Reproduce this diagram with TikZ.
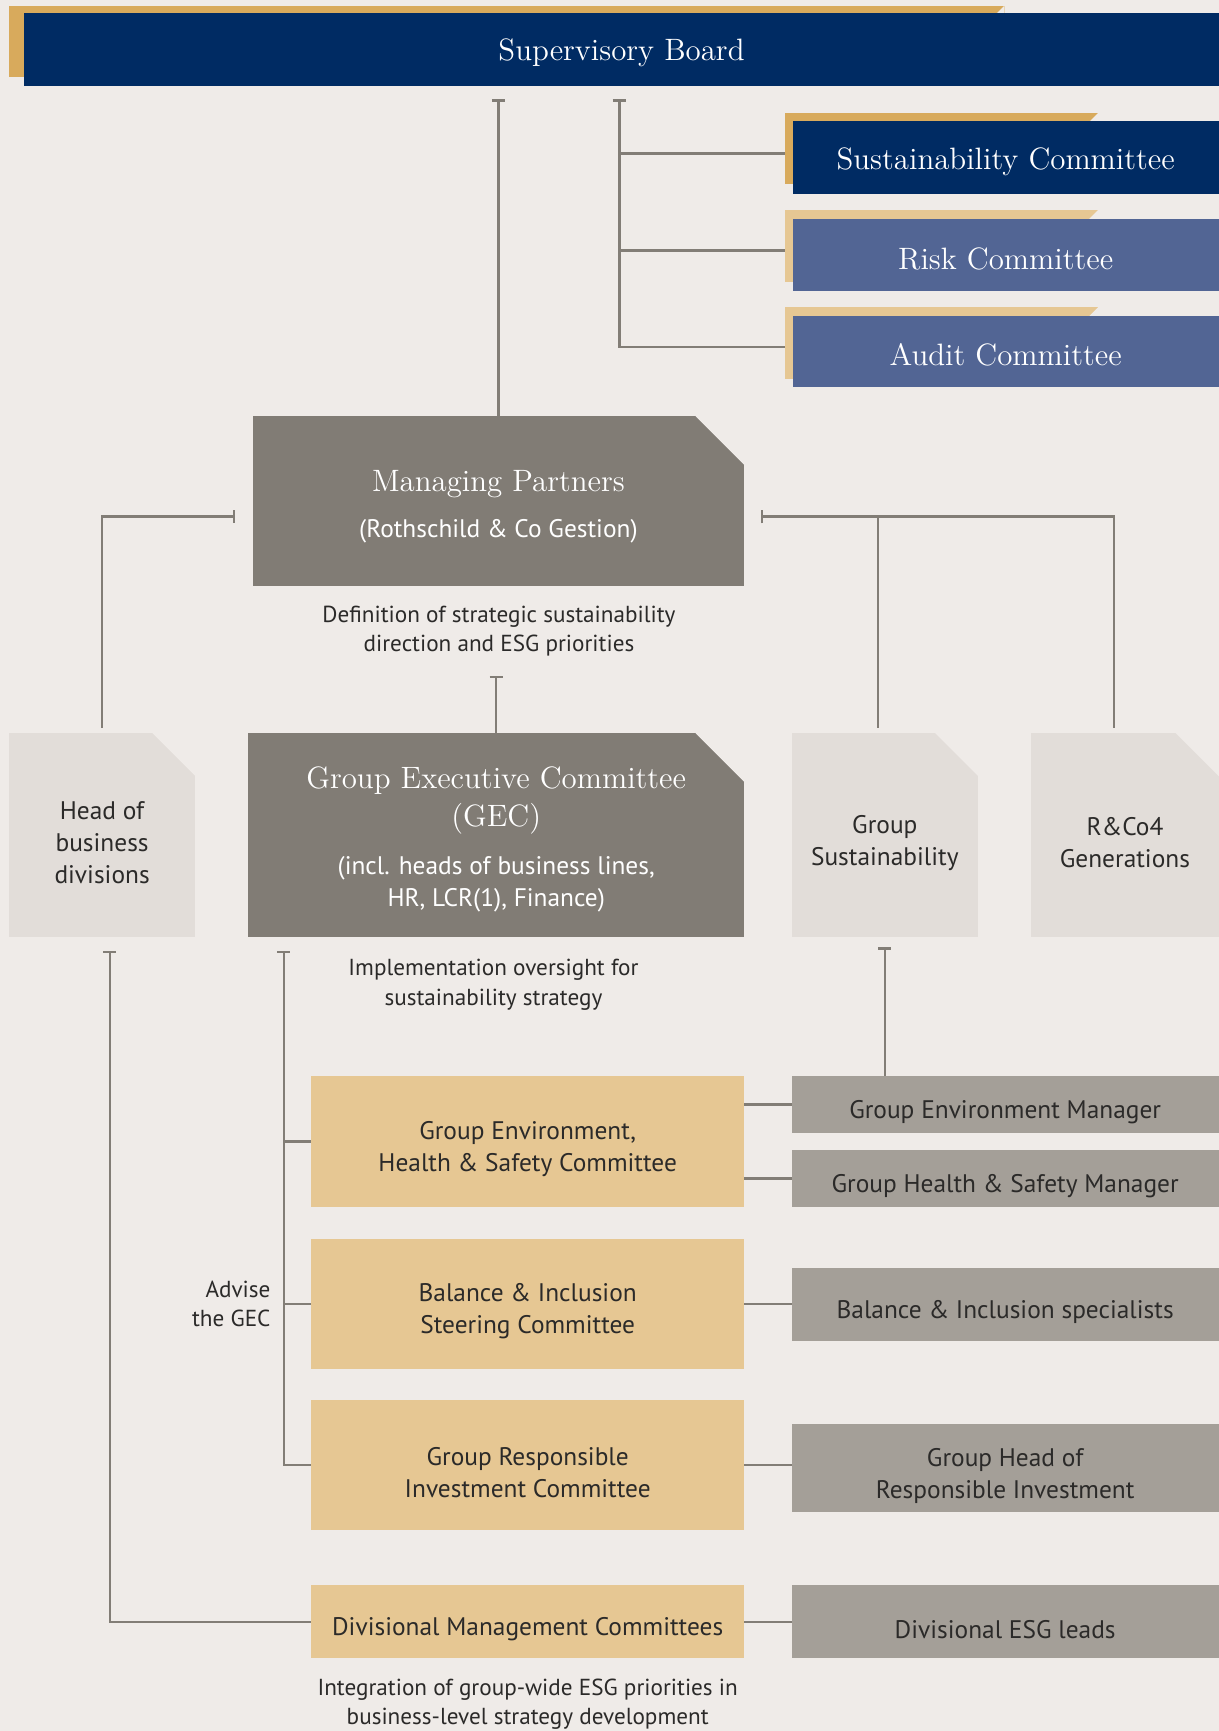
\documentclass[tikz,border=0pt]{standalone}
\usepackage{fontspec}
\setsansfont{PT Sans}
\usepackage{tikz}
\usetikzlibrary{arrows.meta,calc}

\definecolor{bg}{HTML}{EFEBE8}
\definecolor{navy}{HTML}{002B63}
\definecolor{slate}{HTML}{526594}
\definecolor{goldA}{HTML}{D8AA5C}
\definecolor{goldB}{HTML}{E6C793}
\definecolor{stone}{HTML}{817C75}
\definecolor{pale}{HTML}{E2DDD9}
\definecolor{taupe}{HTML}{A49F98}
\definecolor{wire}{HTML}{827D76}
\definecolor{ink}{HTML}{2B2A29}

\newcommand\hdfont{\rmfamily\fontsize{14}{17.5}\selectfont}
\newcommand\bxfont{\sffamily\fontsize{11.5}{14.5}\selectfont}
\newcommand\ntfont{\sffamily\fontsize{10.5}{13.25}\selectfont}
\newcommand\lift[1][15pt]{\rule{0pt}{#1}}

\begin{document}
\begin{tikzpicture}[x=0.5pt,y=-0.5pt,
  base/.style={inner sep=0pt, outer sep=0pt, align=center},
  cut/.style={path picture={\fill[bg] ([xshift=-#1]path picture bounding box.north east) -- (path picture bounding box.north east) -- ([yshift=-#1]path picture bounding box.north east) -- cycle;}},
  gilt/.style={base, fill=#1, path picture={\fill[bg] (path picture bounding box.north east) -- ([yshift=-10pt]path picture bounding box.north east) -- ([xshift=-10pt,yshift=-10pt]path picture bounding box.north east) -- cycle;}},
  board/.style={base, fill=navy, text=white, font=\hdfont},
  stonebox/.style={base, fill=stone, text=white, font=\bxfont},
  palebox/.style={base, fill=pale, text=ink, font=\bxfont},
  panel/.style={base, fill=goldB, text=ink, font=\bxfont, minimum width=196pt},
  role/.style={base, fill=taupe, text=ink, font=\bxfont, minimum width=193.5pt},
  note/.style={base, text=ink, font=\ntfont},
  link/.style={draw=wire, line width=1.1pt},
  tbar/.style={{Bar[width=6pt]}-}]
  \path[use as bounding box, fill=bg] (0,0) rectangle (1104,1568);

  \node [gilt=goldA, minimum width=451pt, minimum height=32.5pt] (sbg) at (459,37.5) {};
  \node [board, minimum width=541pt, minimum height=33pt] (sb) at (563,45) {\lift[13pt]Supervisory Board};

  \node [gilt=goldA, minimum width=142pt, minimum height=32.5pt] (scg) at (853,134.5) {};
  \node [board, minimum width=193pt, minimum height=33pt] (sc) at (911,143) {\lift[13pt]Sustainability Committee};
  \node [gilt=goldB, minimum width=142pt, minimum height=32.5pt] (rcg) at (853,222.5) {};
  \node [board, fill=slate, minimum width=193pt, minimum height=33pt] (rc) at (911,231) {\lift[13pt]Risk Committee};
  \node [gilt=goldB, minimum width=142pt, minimum height=32.5pt] (acg) at (853,310.5) {};
  \node [board, fill=slate, minimum width=193pt, minimum height=32.5pt] (ac) at (911,318.5) {\lift[13pt]Audit Committee};

  \node [stonebox, cut=22pt, minimum width=222.5pt, minimum height=77pt] (mp) at (451.5,454)
    {\lift[14.4pt]\hdfont Managing Partners\\[6.5pt] \bxfont (Rothschild \& Co Gestion)};
  \node [note] (mpnote) at (452,571.5) {Definition of strategic sustainability\\direction and ESG priorities};

  \node [palebox, cut=19.5pt, minimum width=84.5pt, minimum height=92.5pt] (hbd) at (92.5,756.5) {\lift Head of\\business\\divisions};
  \node [stonebox, cut=22pt, minimum width=224.5pt, minimum height=92.5pt] (gec) at (449.5,756.5)
    {\lift[14pt]\hdfont Group Executive Committee\\[2.5pt]\hdfont (GEC)\\[7.5pt] \bxfont (incl. heads of business lines,\\\bxfont HR, LCR(1), Finance)};
  \node [palebox, cut=19.5pt, minimum width=84.5pt, minimum height=92.5pt] (gs) at (801.5,756.5) {\lift Group\\Sustainability};
  \node [palebox, cut=19.5pt, minimum width=85pt, minimum height=92.5pt] (rco) at (1019,756.5) {\lift R\&Co4\\Generations};
  \node [note] (gecnote) at (447,892) {Implementation oversight for\\sustainability strategy};

  \node [panel, minimum height=59pt] (ehs) at (478,1034) {\lift Group Environment,\\Health \& Safety Committee};
  \node [panel, minimum height=59pt] (bis) at (478,1181) {\lift Balance \& Inclusion\\Steering Committee};
  \node [panel, minimum height=59pt] (gri) at (478,1327) {\lift Group Responsible\\Investment Committee};
  \node [panel, minimum height=33pt] (dmc) at (478,1469) {\lift Divisional Management Committees};
  \node [note] (dmcnote) at (478,1544) {Integration of group-wide ESG priorities in\\business-level strategy development};

  \node [role, minimum height=25.5pt] (gem) at (910.5,1000.5) {\lift Group Environment Manager};
  \node [role, minimum height=25.5pt] (ghs) at (910.5,1067.5) {\lift Group Health \& Safety Manager};
  \node [role, minimum height=33pt] (bisp) at (910.5,1182) {\lift Balance \& Inclusion specialists};
  \node [role, minimum height=40pt] (ghri) at (910.5,1330) {\lift Group Head of\\Responsible Investment};
  \node [role, minimum height=33pt] (desg) at (910.5,1469) {\lift Divisional ESG leads};

  \coordinate (sbtap) at (561,90);
  \draw [link, tbar] (sbtap) |- ([yshift=2pt]ac.west -| acg.west);
  \draw [link] ([yshift=2pt]sc.west -| sbtap) -- ([yshift=2pt]sc.west -| scg.west);
  \draw [link] ([yshift=2pt]rc.west -| sbtap) -- ([yshift=2pt]rc.west -| rcg.west);
  \draw [link, -{Bar[width=6pt]}, shorten >=6pt] (mp.north) -- (mp.north |- sb.south);

  \coordinate (mpl) at ([xshift=-8pt,yshift=-7pt]mp.west);
  \coordinate (mpr) at ([xshift=7.5pt,yshift=-7pt]mp.east);
  \draw [link, tbar, shorten >=2.5pt] (mpl) -| (hbd.north);
  \draw [link, tbar, shorten >=2.5pt] (mpr) -| ([xshift=-5pt]rco.north);
  \draw [link, shorten >=2.5pt] ([xshift=-3pt]gs.north |- mpr) -- ([xshift=-3pt]gs.north);
  \coordinate (gectop) at ([yshift=26pt]gec.north);
  \draw [link, -{Bar[width=6pt]}] (gec.north) -- (gectop);

  \coordinate (hbdlow) at ([xshift=3.5pt,yshift=-6pt]hbd.south);
  \draw [link, tbar] (hbdlow) |- (dmc.west);
  \coordinate (geclow) at ([xshift=16pt,yshift=-6pt]gec.south west);
  \draw [link, tbar] (geclow) |- (gri.west);
  \draw [link] (geclow |- ehs.west) -- (ehs.west);
  \draw [link] (geclow |- bis.west) -- (bis.west);
  \node [note, anchor=east, align=right] (adv) at ([xshift=-6pt]geclow |- bis.west) {Advise\\the GEC};
  \draw [link, tbar] ([yshift=-4.5pt]gs.south) -- (gs.south |- gem.north);

  \draw [link] (gem.west -| ehs.east) -- (gem.west);
  \draw [link] (ghs.west -| ehs.east) -- (ghs.west);
  \draw [link] (bis.east) -- (bis.east -| bisp.west);
  \draw [link] (gri.east) -- (gri.east -| ghri.west);
  \draw [link] (dmc.east) -- (desg.west);
\end{tikzpicture}
\end{document}
